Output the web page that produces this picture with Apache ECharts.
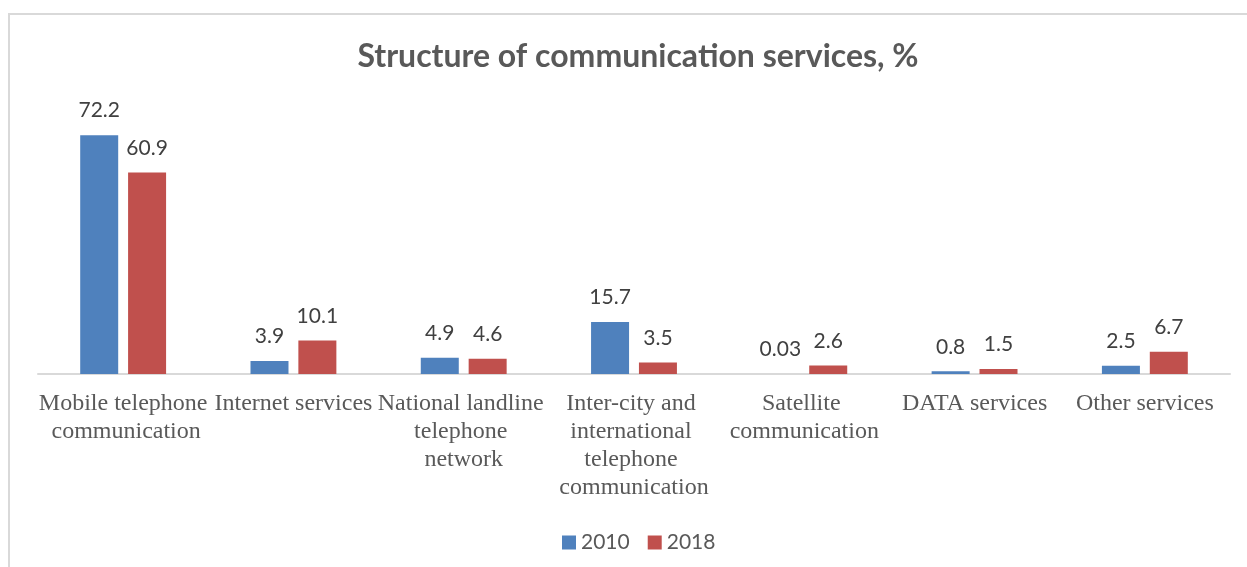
<!DOCTYPE html>
<html>
<head>
<meta charset="utf-8">
<script src="https://cdn.jsdelivr.net/npm/echarts@6/dist/echarts.min.js"></script>
<style>
html,body{margin:0;padding:0;background:#fff;}
#chart{width:1247px;height:567px;}
</style>
</head>
<body>
<div id="chart"></div>
<script>
const categories = [
  'Mobile telephone communication',
  'Internet services',
  'National landline telephone network',
  'Inter-city and international telephone communication',
  'Satellite communication',
  'DATA services',
  'Other services'
];
const values2010 = [72.2, 3.9, 4.9, 15.7, 0.03, 0.8, 2.5];
const values2018 = [60.9, 10.1, 4.6, 3.5, 2.6, 1.5, 6.7];
const seriesNames = ['2010', '2018'];

const chart = echarts.init(document.getElementById('chart'));
const labelStyle = {
  show: true,
  position: 'top',
  distance: 14,
  fontFamily: 'Lato',
  fontSize: 21,
  color: '#404040'
};
chart.setOption({
  animation: false,
  backgroundColor: '#fff',
  graphic: [{
    type: 'rect',
    shape: { x: 9, y: 14, width: 1300, height: 700 },
    style: { fill: 'none', stroke: '#d9d9d9', lineWidth: 2 },
    silent: true
  }],
  title: {
    text: 'Structure of communication services, %',
    left: 633,
    textAlign: 'center',
    top: 36,
    textStyle: { fontFamily: 'Lato', fontWeight: 'bold', fontSize: 32, color: '#595959' }
  },
  legend: {
    data: seriesNames,
    left: 557,
    top: 527,
    icon: 'rect',
    itemWidth: 14,
    itemHeight: 14,
    itemGap: 18,
    textStyle: { fontFamily: 'Lato', fontSize: 21, color: '#595959' }
  },
  grid: { left: 38, right: 17, top: 109.4, bottom: 193 },
  xAxis: {
    type: 'category',
    data: categories,
    axisLine: { show: true, lineStyle: { color: '#d9d9d9', width: 2 } },
    axisTick: { show: false },
    axisLabel: {
      interval: 0,
      margin: 16,
      fontFamily: 'Liberation Serif',
      fontSize: 24,
      lineHeight: 28,
      color: '#595959',
      width: 172,
      overflow: 'break'
    }
  },
  yAxis: {
    type: 'value',
    min: 0,
    max: 80,
    show: false,
    splitLine: { show: false }
  },
  series: [
    {
      name: seriesNames[0],
      type: 'bar',
      data: values2010,
      barWidth: 38,
      barGap: '26%',
      itemStyle: { color: '#4f81bd' },
      label: labelStyle
    },
    {
      name: seriesNames[1],
      type: 'bar',
      data: values2018,
      barWidth: 38,
      barGap: '26%',
      itemStyle: { color: '#c0504d' },
      label: labelStyle
    }
  ]
});
</script>
</body>
</html>
